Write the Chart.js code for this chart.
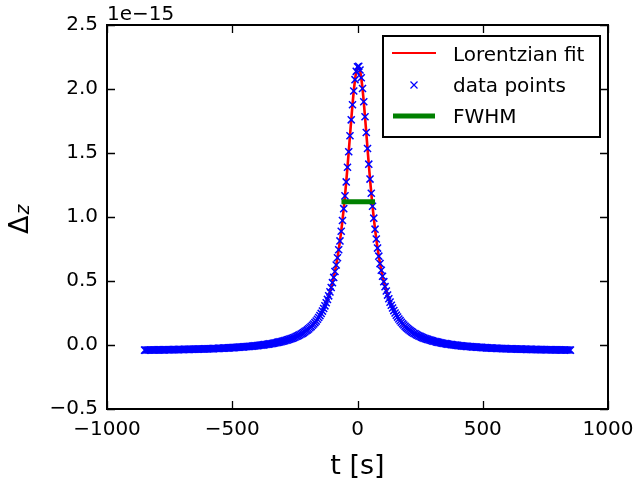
<!DOCTYPE html>
<html>
<head>
<meta charset="utf-8">
<script src="https://cdn.jsdelivr.net/npm/chart.js@4/dist/chart.umd.min.js"></script>
<style>
  html, body { margin: 0; padding: 0; background: #fff; }
  canvas { display: block; }
</style>
</head>
<body>
<canvas id="c" width="640" height="485"></canvas>
<script>
// ---- data (Δz in units of 1e-15, t in seconds) ----
const tValues = [
  -850,-845,-840,-835,-830,-825,-820,-815,-810,-805,-800,-795,-790,-785,-780,-775,-770,-765,-760,-755,
  -750,-745,-740,-735,-730,-725,-720,-715,-710,-705,-700,-695,-690,-685,-680,-675,-670,-665,-660,-655,
  -650,-645,-640,-635,-630,-625,-620,-615,-610,-605,-600,-595,-590,-585,-580,-575,-570,-565,-560,-555,
  -550,-545,-540,-535,-530,-525,-520,-515,-510,-505,-500,-495,-490,-485,-480,-475,-470,-465,-460,-455,
  -450,-445,-440,-435,-430,-425,-420,-415,-410,-405,-400,-395,-390,-385,-380,-375,-370,-365,-360,-355,
  -350,-345,-340,-335,-330,-325,-320,-315,-310,-305,-300,-295,-290,-285,-280,-275,-270,-265,-260,-255,
  -250,-245,-240,-235,-230,-225,-220,-215,-210,-205,-200,-195,-190,-185,-180,-175,-170,-165,-160,-155,
  -150,-145,-140,-135,-130,-125,-120,-115,-110,-105,-100,-95,-90,-85,-80,-75,-70,-65,-60,-55,
  -50,-45,-40,-35,-30,-25,-20,-15,-10,-5,0,5,10,15,20,25,30,35,40,45,
  50,55,60,65,70,75,80,85,90,95,100,105,110,115,120,125,130,135,140,145,150,
  155,160,165,170,175,180,185,190,195,200,205,210,215,220,225,230,235,240,245,250,
  255,260,265,270,275,280,285,290,295,300,305,310,315,320,325,330,335,340,345,350,
  355,360,365,370,375,380,385,390,395,400,405,410,415,420,425,430,435,440,445,450,
  455,460,465,470,475,480,485,490,495,500,505,510,515,520,525,530,535,540,545,550,
  555,560,565,570,575,580,585,590,595,600,605,610,615,620,625,630,635,640,645,650,
  655,660,665,670,675,680,685,690,695,700,705,710,715,720,725,730,735,740,745,750,
  755,760,765,770,775,780,785,790,795,800,805,810,815,820,825,830,835,840,845,850
];
const dzValues = [
  -0.040,-0.040,-0.039,-0.039,-0.039,-0.039,-0.039,-0.039,-0.039,-0.039,-0.038,-0.038,-0.038,-0.038,-0.038,-0.038,-0.038,-0.037,-0.037,-0.037,
  -0.037,-0.037,-0.036,-0.036,-0.036,-0.036,-0.036,-0.036,-0.035,-0.035,-0.035,-0.035,-0.034,-0.034,-0.034,-0.034,-0.034,-0.033,-0.033,-0.033,
  -0.033,-0.032,-0.032,-0.032,-0.031,-0.031,-0.031,-0.031,-0.030,-0.030,-0.030,-0.029,-0.029,-0.029,-0.028,-0.028,-0.027,-0.027,-0.027,-0.026,
  -0.026,-0.025,-0.025,-0.024,-0.024,-0.023,-0.023,-0.022,-0.022,-0.021,-0.021,-0.020,-0.020,-0.019,-0.018,-0.018,-0.017,-0.016,-0.016,-0.015,
  -0.014,-0.013,-0.012,-0.012,-0.011,-0.010,-0.009,-0.008,-0.007,-0.006,-0.005,-0.004,-0.002,-0.001,0.000,0.001,0.003,0.004,0.006,0.007,
  0.009,0.010,0.012,0.014,0.016,0.018,0.020,0.022,0.024,0.026,0.029,0.031,0.034,0.037,0.040,0.043,0.046,0.050,0.053,0.057,
  0.061,0.066,0.070,0.075,0.080,0.086,0.091,0.097,0.104,0.111,0.118,0.126,0.135,0.144,0.154,0.164,0.175,0.187,0.201,0.215,
  0.230,0.247,0.265,0.285,0.306,0.330,0.356,0.384,0.415,0.449,0.487,0.528,0.574,0.625,0.682,0.744,0.813,0.889,0.973,1.065,
  1.165,1.274,1.389,1.510,1.635,1.759,1.877,1.984,2.073,2.138,2.174,2.177,2.148,2.088,2.004,1.900,1.783,1.660,1.535,1.413,
  1.296,1.186,1.084,0.991,0.905,0.828,0.757,0.694,0.636,0.584,0.537,0.495,0.456,0.422,0.390,0.361,0.335,0.311,0.289,0.269,0.250,
  0.233,0.218,0.203,0.190,0.178,0.166,0.156,0.146,0.136,0.128,0.120,0.112,0.105,0.099,0.092,0.087,0.081,0.076,0.071,0.067,
  0.062,0.058,0.054,0.050,0.047,0.044,0.041,0.038,0.035,0.032,0.029,0.027,0.024,0.022,0.020,0.018,0.016,0.014,0.012,0.011,
  0.009,0.007,0.006,0.004,0.003,0.002,0.000,-0.001,-0.002,-0.003,-0.005,-0.006,-0.007,-0.008,-0.009,-0.010,-0.011,-0.011,-0.012,-0.013,
  -0.014,-0.015,-0.015,-0.016,-0.017,-0.018,-0.018,-0.019,-0.019,-0.020,-0.021,-0.021,-0.022,-0.022,-0.023,-0.023,-0.024,-0.024,-0.025,-0.025,
  -0.026,-0.026,-0.027,-0.027,-0.027,-0.028,-0.028,-0.028,-0.029,-0.029,-0.029,-0.030,-0.030,-0.030,-0.031,-0.031,-0.031,-0.032,-0.032,-0.032,
  -0.032,-0.033,-0.033,-0.033,-0.034,-0.034,-0.034,-0.034,-0.034,-0.035,-0.035,-0.035,-0.035,-0.036,-0.036,-0.036,-0.036,-0.036,-0.036,-0.037,
  -0.037,-0.037,-0.037,-0.037,-0.037,-0.038,-0.038,-0.038,-0.038,-0.038,-0.038,-0.039,-0.039,-0.039,-0.039,-0.039,-0.039,-0.039,-0.039,-0.040
];
const fwhmT = [-54, 60];
const fwhmDz = [1.12, 1.12];

const xTickValues = [-1000, -500, 0, 500, 1000];
const xTickLabels = ['\u22121000', '\u2212500', '0', '500', '1000'];
const yTickValues = [-0.5, 0.0, 0.5, 1.0, 1.5, 2.0, 2.5];
const yTickLabels = ['\u22120.5', '0.0', '0.5', '1.0', '1.5', '2.0', '2.5'];
const seriesNames = ['Lorentzian fit', 'data points', 'FWHM'];
const offsetLabel = '1e\u221215';
const xTitle = 't [s]';

const FONT = "'DejaVu Sans', 'Liberation Sans', sans-serif";

const pointsData = tValues.map((t, i) => ({ x: t, y: dzValues[i] }));
const fwhmData = fwhmT.map((t, i) => ({ x: t, y: fwhmDz[i] }));

const decor = {
  id: 'decor',
  afterDatasetsDraw(chart) {
    const ctx = chart.ctx;
    const a = chart.chartArea;
    const xs = chart.scales.x, ys = chart.scales.y;
    ctx.save();
    // inward ticks on all four sides
    ctx.strokeStyle = '#000';
    ctx.lineWidth = 1.3;
    const TL = 8;
    ctx.beginPath();
    xTickValues.forEach(v => {
      const px = Math.round(xs.getPixelForValue(v)) + 0.5;
      ctx.moveTo(px, a.bottom); ctx.lineTo(px, a.bottom - TL);
      ctx.moveTo(px, a.top); ctx.lineTo(px, a.top + TL);
    });
    yTickValues.forEach(v => {
      const py = Math.round(ys.getPixelForValue(v)) + 0.5;
      ctx.moveTo(a.left, py); ctx.lineTo(a.left + TL, py);
      ctx.moveTo(a.right, py); ctx.lineTo(a.right - TL, py);
    });
    ctx.stroke();
    // frame
    ctx.lineWidth = 2;
    ctx.strokeRect(a.left, a.top, a.right - a.left, a.bottom - a.top);

    // legend
    const lx = 383, ly = 36, lw = 217, lh = 101;
    ctx.fillStyle = '#fff';
    ctx.fillRect(lx, ly, lw, lh);
    ctx.lineWidth = 2;
    ctx.strokeStyle = '#000';
    ctx.strokeRect(lx, ly, lw, lh);
    const ds = chart.data.datasets;
    // row 1: fit line
    ctx.strokeStyle = ds[0].borderColor;
    ctx.lineWidth = 2;
    ctx.beginPath(); ctx.moveTo(392, 53); ctx.lineTo(436, 53); ctx.stroke();
    // row 2: marker
    ctx.strokeStyle = ds[1].borderColor;
    ctx.lineWidth = 1.2;
    const r = 3.5;
    ctx.beginPath();
    ctx.moveTo(414 - r, 85 - r); ctx.lineTo(414 + r, 85 + r);
    ctx.moveTo(414 - r, 85 + r); ctx.lineTo(414 + r, 85 - r);
    ctx.stroke();
    // row 3: FWHM
    ctx.strokeStyle = ds[2].borderColor;
    ctx.lineWidth = ds[2].borderWidth;
    ctx.beginPath(); ctx.moveTo(393, 116); ctx.lineTo(435, 116); ctx.stroke();
    ctx.fillStyle = '#000';
    ctx.font = '20px ' + FONT;
    ctx.textAlign = 'left';
    ctx.textBaseline = 'alphabetic';
    ctx.fillText(seriesNames[0], 453, 61);
    ctx.fillText(seriesNames[1], 453, 92);
    ctx.fillText(seriesNames[2], 453, 123);

    // offset text
    ctx.fillText(offsetLabel, a.left, 20);

    // x title
    ctx.font = '27px ' + FONT;
    ctx.textAlign = 'center';
    ctx.textBaseline = 'alphabetic';
    ctx.fillText(xTitle, (a.left + a.right) / 2, 474);

    // y title: Δ with subscript z, rotated
    ctx.save();
    ctx.translate(28, 234);
    ctx.rotate(-Math.PI / 2);
    ctx.textAlign = 'left';
    ctx.font = '27px ' + FONT;
    ctx.fillText('\u0394', 0, 0);
    const w = ctx.measureText('\u0394').width;
    ctx.font = 'italic 19px ' + FONT;
    ctx.fillText('z', w + 1, 1);
    ctx.restore();

    ctx.restore();
  }
};

new Chart(document.getElementById('c'), {
  type: 'scatter',
  data: {
    datasets: [
      {
        label: seriesNames[0],
        data: pointsData,
        showLine: true,
        borderColor: '#ff0000',
        backgroundColor: '#ff0000',
        borderWidth: 2.6,
        pointRadius: 0,
        tension: 0,
        order: 3
      },
      {
        label: seriesNames[1],
        data: pointsData,
        showLine: false,
        pointStyle: 'crossRot',
        pointRadius: 5,
        borderColor: '#0000ff',
        backgroundColor: '#0000ff',
        borderWidth: 1.5,
        order: 2
      },
      {
        label: seriesNames[2],
        data: fwhmData,
        showLine: true,
        borderColor: '#008000',
        backgroundColor: '#008000',
        borderWidth: 5,
        borderCapStyle: 'square',
        pointRadius: 0,
        order: 1
      }
    ]
  },
  options: {
    responsive: false,
    animation: false,
    events: [],
    layout: { padding: { left: 0, top: 25, right: 32, bottom: 0 } },
    plugins: { legend: { display: false }, tooltip: { enabled: false } },
    scales: {
      x: {
        type: 'linear',
        min: -1000, max: 1000,
        afterFit(s) { s.height = 76; s.paddingLeft = 0; s.paddingRight = 0; },
        afterBuildTicks(s) { s.ticks = xTickValues.map(v => ({ value: v })); },
        ticks: {
          autoSkip: false, maxRotation: 0, padding: 9,
          color: '#000',
          font: { family: FONT, size: 20 },
          callback: (v, i) => xTickLabels[i]
        },
        grid: { display: false, drawTicks: false },
        border: { display: false }
      },
      y: {
        type: 'linear',
        min: -0.5, max: 2.5,
        afterFit(s) { s.width = 107; s.paddingTop = 0; s.paddingBottom = 0; },
        afterBuildTicks(s) { s.ticks = yTickValues.map(v => ({ value: v })); },
        ticks: {
          autoSkip: false, padding: 9,
          color: '#000',
          font: { family: FONT, size: 20 },
          callback: (v, i) => yTickLabels[i]
        },
        grid: { display: false, drawTicks: false },
        border: { display: false }
      }
    }
  },
  plugins: [decor]
});
</script>
</body>
</html>
